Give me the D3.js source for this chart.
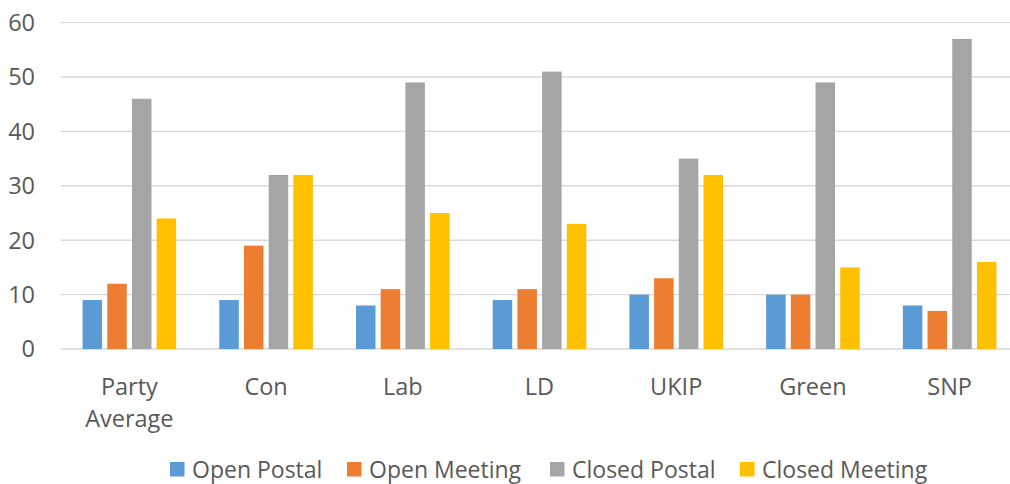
<!DOCTYPE html>
<html><head><meta charset="utf-8">
<script src="https://cdn.jsdelivr.net/npm/d3@7"></script>
<style>html,body{margin:0;padding:0;background:#fff;overflow:hidden}</style>
</head><body>
<svg id="chart" width="1010" height="484"></svg>
<script>
const categories = ["Party Average","Con","Lab","LD","UKIP","Green","SNP"];
const seriesNames = ["Open Postal","Open Meeting","Closed Postal","Closed Meeting"];
const openPostal    = [9, 9, 8, 9, 10, 10, 8];
const openMeeting   = [12, 19, 11, 11, 13, 10, 7];
const closedPostal  = [46, 32, 49, 51, 35, 49, 57];
const closedMeeting = [24, 32, 25, 23, 32, 15, 16];
const yTicks = [0,10,20,30,40,50,60];
const colors = ["#5B9BD5","#ED7D31","#A5A5A5","#FFC000"];

const seriesValues = [openPostal, openMeeting, closedPostal, closedMeeting];
const svg = d3.select("#chart");
const font = "'Open Sans', sans-serif";
const textColor = "#595959";

const plotLeft = 61, plotRight = 1018, plotTop = 22.6, plotBottom = 349;
const x0 = d3.scaleBand().domain(categories).range([plotLeft, plotRight]).padding(0);
const groupW = 93.6;
const x1 = d3.scaleBand().domain(seriesNames).range([0, groupW]).paddingInner(0.21).paddingOuter(0);
const y = d3.scaleLinear().domain([0, 60]).range([plotBottom, plotTop]);

// gridlines
svg.append("g").selectAll("line").data(yTicks).join("line")
  .attr("x1", plotLeft).attr("x2", plotRight)
  .attr("y1", d => y(d)).attr("y2", d => y(d))
  .attr("stroke", "#D9D9D9").attr("stroke-width", 1.4);

// y tick labels
svg.append("g").selectAll("text").data(yTicks).join("text")
  .attr("x", 35).attr("y", d => y(d)).attr("dy", "0.36em")
  .attr("text-anchor", "end").attr("font-family", font).attr("font-size", 23.5)
  .attr("fill", textColor).text(d => d);

// bars
const groups = svg.append("g").selectAll("g").data(categories).join("g")
  .attr("transform", c => `translate(${x0(c) + (x0.bandwidth() - groupW)/2},0)`);
groups.selectAll("rect").data((c, i) => seriesNames.map((s, j) => ({s, j, v: seriesValues[j][i]})))
  .join("rect")
  .attr("x", d => x1(d.s)).attr("width", x1.bandwidth())
  .attr("y", d => y(d.v)).attr("height", d => y(0) - y(d.v))
  .attr("fill", d => colors[d.j]);

// category labels
const catG = svg.append("g").selectAll("text").data(categories).join("text")
  .attr("x", c => x0(c) + x0.bandwidth()/2)
  .attr("text-anchor", "middle").attr("font-family", font).attr("font-size", 23.5)
  .attr("fill", textColor);
catG.each(function(c) {
  const words = c.split(" ");
  const t = d3.select(this);
  words.forEach((w, k) => {
    t.append("tspan").attr("x", x0(c) + x0.bandwidth()/2).attr("y", 394.5 + k*32).text(w);
  });
});

// legend
const legendX = [170, 347, 550, 740];
const lg = svg.append("g").selectAll("g").data(seriesNames).join("g")
  .attr("transform", (d, i) => `translate(${legendX[i]},462)`);
lg.append("rect").attr("width", 14.5).attr("height", 14.5).attr("fill", (d, i) => colors[i]);
lg.append("text").attr("x", 22).attr("y", 7.5).attr("dy", "0.36em")
  .attr("font-family", font).attr("font-size", 23).attr("fill", textColor).text(d => d);
</script>
</body></html>
